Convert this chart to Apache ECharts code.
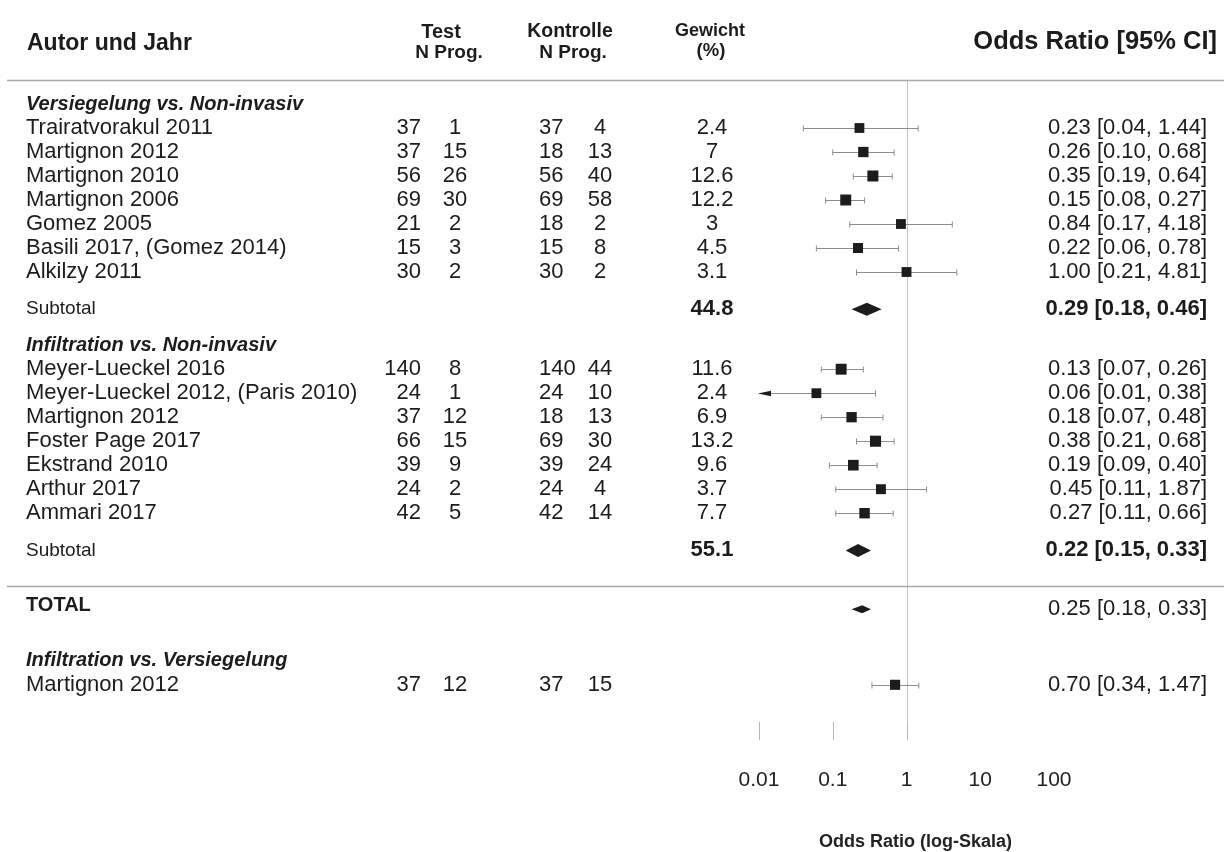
<!DOCTYPE html>
<html><head><meta charset="utf-8">
<script src="https://cdn.jsdelivr.net/npm/echarts@6/dist/echarts.min.js"></script>
<style>html,body{margin:0;padding:0;background:#fff}#c{width:1224px;height:852px}</style>
</head><body><div id="c"></div>
<script>
// ---------------- DATA ----------------
const sections = ['Versiegelung vs. Non-invasiv', 'Infiltration vs. Non-invasiv', 'Infiltration vs. Versiegelung'];
const studyNames = ['Trairatvorakul 2011', 'Martignon 2012', 'Martignon 2010', 'Martignon 2006', 'Gomez 2005', 'Basili 2017, (Gomez 2014)', 'Alkilzy 2011',
  'Meyer-Lueckel 2016', 'Meyer-Lueckel 2012, (Paris 2010)', 'Martignon 2012', 'Foster Page 2017', 'Ekstrand 2010', 'Arthur 2017', 'Ammari 2017',
  'Martignon 2012'];
const studySection = [0, 0, 0, 0, 0, 0, 0, 1, 1, 1, 1, 1, 1, 1, 2];
const testN = [37, 37, 56, 69, 21, 15, 30, 140, 24, 37, 66, 39, 24, 42, 37];
const testProg = [1, 15, 26, 30, 2, 3, 2, 8, 1, 12, 15, 9, 2, 5, 12];
const ctrlN = [37, 18, 56, 69, 18, 15, 30, 140, 24, 18, 69, 39, 24, 42, 37];
const ctrlProg = [4, 13, 40, 58, 2, 8, 2, 44, 10, 13, 30, 24, 4, 14, 15];
const weights = ['2.4', '7', '12.6', '12.2', '3', '4.5', '3.1', '11.6', '2.4', '6.9', '13.2', '9.6', '3.7', '7.7', ''];
const oddsRatio = [0.23, 0.26, 0.35, 0.15, 0.84, 0.22, 1.00, 0.13, 0.06, 0.18, 0.38, 0.19, 0.45, 0.27, 0.70];
const ciLow = [0.04, 0.10, 0.19, 0.08, 0.17, 0.06, 0.21, 0.07, 0.01, 0.07, 0.21, 0.09, 0.11, 0.11, 0.34];
const ciHigh = [1.44, 0.68, 0.64, 0.27, 4.18, 0.78, 4.81, 0.26, 0.38, 0.48, 0.68, 0.40, 1.87, 0.66, 1.47];
const subtotalWeights = ['44.8', '55.1'];
const subtotalOR = [0.29, 0.22];
const subtotalLow = [0.18, 0.15];
const subtotalHigh = [0.46, 0.33];
const totalOR = 0.25, totalLow = 0.18, totalHigh = 0.33;
const tickLabels = ['0.01', '0.1', '1', '10', '100'];
const visibleTicks = [0.01, 0.1, 1];

// ---------------- LAYOUT ----------------
const FONT = '"Liberation Sans", Arial, Helvetica, sans-serif';
const INK = '#1c1c1c';
const AXIS_MIN = 0.01, AXIS_MAX = 100;
const Y_MAX = 27.5;
const col = { name: 26, tN: 421, tP: 455, cN: 539, cP: 600, w: 712, or: 1207 };
const gap = { headerToStudy: 1.0, study: 1.0, studyToSub: 1.55, subToHeader: 1.5, subToSep: 1.5, sepToTotal: 0.95, totalToHeader: 2.15 };

const texts = [];
const studyRows = [];
const diamonds = [];
const separators = [0];
let cur = 1.0;
const fmt = v => v.toFixed(2);
const ciText = (o, l, h) => `${fmt(o)} [${fmt(l)}, ${fmt(h)}]`;

function addText(x, y, text, align, size, weight, style, dy) {
  texts.push({ x, y, text: String(text), align, size, weight: weight || 'normal', style: style || 'normal', dy: dy || 0 });
}

// header
addText(col.name + 1, -1.5, 'Autor und Jahr', 'left', 23, 'bold');
addText(441, -2.0, 'Test', 'center', 20, 'bold');
addText(449, -1.15, 'N Prog.', 'center', 19, 'bold');
addText(570, -2.0, 'Kontrolle', 'center', 19.5, 'bold');
addText(573, -1.15, 'N Prog.', 'center', 19, 'bold');
addText(710, -2.05, 'Gewicht', 'center', 18, 'bold');
addText(711, -1.2, '(%)', 'center', 18.5, 'bold');
addText(1217, -1.6, 'Odds Ratio [95% CI]', 'right', 25.5, 'bold');

sections.forEach((sec, s) => {
  if (s === 2) {
    cur += gap.subToSep; separators.push(cur);
    cur += gap.sepToTotal;
    addText(col.name, cur, 'TOTAL', 'left', 20, 'bold', 'normal', -4);
    addText(col.or, cur, ciText(totalOR, totalLow, totalHigh), 'right', 22);
    diamonds.push([totalOR, totalLow, totalHigh, cur, 4]);
    cur += gap.totalToHeader;
  } else if (s > 0) {
    cur += gap.subToHeader;
  }
  addText(col.name, cur, sec, 'left', 20, 'bold', 'italic');
  cur += gap.headerToStudy;
  let first = true;
  studyNames.forEach((nm, i) => {
    if (studySection[i] !== s) return;
    if (!first) cur += gap.study;
    first = false;
    studyRows[i] = cur;
    addText(col.name, cur, nm, 'left', 22);
    addText(col.tN, cur, testN[i], 'right', 22);
    addText(col.tP, cur, testProg[i], 'center', 22);
    addText(col.cN, cur, ctrlN[i], 'left', 22);
    addText(col.cP, cur, ctrlProg[i], 'center', 22);
    if (weights[i]) addText(col.w, cur, weights[i], 'center', 22);
    addText(col.or, cur, ciText(oddsRatio[i], ciLow[i], ciHigh[i]), 'right', 22);
  });
  if (s < 2) {
    cur += gap.studyToSub;
    addText(col.name, cur, 'Subtotal', 'left', 19);
    addText(col.w, cur, subtotalWeights[s], 'center', 22, 'bold');
    addText(col.or, cur, ciText(subtotalOR[s], subtotalLow[s], subtotalHigh[s]), 'right', 22, 'bold');
    diamonds.push([subtotalOR[s], subtotalLow[s], subtotalHigh[s], cur, 6.5]);
  }
});

const studyData = studyNames.map((n, i) => [oddsRatio[i], ciLow[i], ciHigh[i], studyRows[i], parseFloat(weights[i]) || 5]);

// ---------------- CHART ----------------
const chart = echarts.init(document.getElementById('c'), null, { renderer: 'canvas' });
const yBase = { type: 'value', inverse: true, min: 0, max: Y_MAX, show: false };

chart.setOption({
  backgroundColor: '#fff',
  animation: false,
  grid: [
    { left: 0, right: 0, top: 80, bottom: 112, containLabel: false, outerBoundsMode: 'none' },
    { left: 759, right: 170, top: 80, bottom: 112, containLabel: false, outerBoundsMode: 'none' }
  ],
  xAxis: [
    { gridIndex: 0, type: 'value', min: 0, max: 1224, show: false },
    {
      gridIndex: 1, type: 'log', logBase: 10, min: AXIS_MIN, max: AXIS_MAX,
      axisLine: { show: false }, axisTick: { show: false }, splitLine: { show: false },
      axisLabel: {
        margin: 30, fontSize: 21, color: '#222', fontFamily: FONT, showMinLabel: true, showMaxLabel: true,
        formatter: v => { const t = tickLabels.find(l => Math.abs(Math.log10(parseFloat(l)) - Math.log10(v)) < 1e-6); return t || ''; }
      },
      name: 'Odds Ratio (log-Skala)', nameLocation: 'middle', nameGap: 93,
      nameTextStyle: { fontSize: 18, fontWeight: 'bold', color: '#222', fontFamily: FONT, padding: [0, 0, 0, 18] }
    }
  ],
  yAxis: [Object.assign({ gridIndex: 0 }, yBase), Object.assign({ gridIndex: 1 }, yBase)],
  series: [
    {
      type: 'custom', xAxisIndex: 0, yAxisIndex: 0, clip: false, silent: true,
      data: separators.map(u => [u]),
      renderItem: (p, api) => {
        const a = api.coord([7, api.value(0)]), b = api.coord([1224, api.value(0)]);
        const y = Math.round(a[1]) + 0.5;
        return { type: 'line', shape: { x1: a[0], y1: y, x2: b[0], y2: y }, style: { stroke: '#a9a9a9', lineWidth: 1.5 } };
      }
    },
    {
      type: 'custom', xAxisIndex: 0, yAxisIndex: 0, clip: false, silent: true,
      data: texts.map(t => [t.x, t.y]),
      renderItem: (p, api) => {
        const t = texts[p.dataIndex];
        const c = api.coord([api.value(0), api.value(1)]);
        return {
          type: 'text', x: c[0], y: c[1] + t.dy,
          style: { text: t.text, align: t.align, verticalAlign: 'middle', fill: INK,
            font: `${t.style} ${t.weight} ${t.size}px ${FONT}` }
        };
      }
    },
    {
      type: 'custom', xAxisIndex: 1, yAxisIndex: 1, clip: false, silent: true, z: 1,
      data: [[1]],
      renderItem: (p, api) => {
        const a = api.coord([api.value(0), 0]), b = api.coord([api.value(0), Y_MAX]);
        const x = Math.round(a[0]) + 0.5;
        return { type: 'line', shape: { x1: x, y1: a[1], x2: x, y2: b[1] }, style: { stroke: '#c4c4c4', lineWidth: 1 } };
      }
    },
    {
      type: 'custom', xAxisIndex: 1, yAxisIndex: 1, clip: false, silent: true,
      data: visibleTicks.map(v => [v]),
      renderItem: (p, api) => {
        const a = api.coord([api.value(0), Y_MAX]);
        const x = Math.round(a[0]) + 0.5;
        return { type: 'line', shape: { x1: x, y1: a[1], x2: x, y2: a[1] - 18 }, style: { stroke: '#b5b5b5', lineWidth: 1 } };
      }
    },
    {
      type: 'custom', xAxisIndex: 1, yAxisIndex: 1, clip: false, silent: true, z: 3,
      data: studyData,
      renderItem: (p, api) => {
        const or = api.value(0), lo = api.value(1), hi = api.value(2), row = api.value(3), w = api.value(4);
        const arrow = lo <= AXIS_MIN;
        const c = api.coord([or, row]);
        const l = api.coord([Math.max(lo, AXIS_MIN), row]);
        const h = api.coord([Math.min(hi, AXIS_MAX), row]);
        const y = Math.round(c[1]) + 0.5;
        const kids = [
          { type: 'line', shape: { x1: l[0], y1: y, x2: h[0], y2: y }, style: { stroke: '#8e8e8e', lineWidth: 1 } },
          { type: 'line', shape: { x1: h[0], y1: y - 3, x2: h[0], y2: y + 3 }, style: { stroke: '#8e8e8e', lineWidth: 1 } }
        ];
        if (arrow) {
          kids.push({ type: 'polygon', shape: { points: [[l[0] - 1, y], [l[0] + 12, y - 2.8], [l[0] + 12, y + 2.8]] }, style: { fill: INK } });
        } else {
          kids.push({ type: 'line', shape: { x1: l[0], y1: y - 3, x2: l[0], y2: y + 3 }, style: { stroke: '#8e8e8e', lineWidth: 1 } });
        }
        const s = 9.5 + w * 0.12;
        kids.push({ type: 'rect', shape: { x: c[0] - s / 2, y: c[1] - s / 2, width: s, height: s }, style: { fill: INK } });
        return { type: 'group', children: kids };
      }
    },
    {
      type: 'custom', xAxisIndex: 1, yAxisIndex: 1, clip: false, silent: true, z: 3,
      data: diamonds,
      renderItem: (p, api) => {
        const or = api.value(0), lo = api.value(1), hi = api.value(2), row = api.value(3), hh = api.value(4);
        const c = api.coord([or, row]), l = api.coord([lo, row]), h = api.coord([hi, row]);
        return { type: 'polygon', shape: { points: [[l[0], c[1]], [c[0], c[1] - hh], [h[0], c[1]], [c[0], c[1] + hh]] }, style: { fill: INK } };
      }
    }
  ]
});
</script></body></html>
